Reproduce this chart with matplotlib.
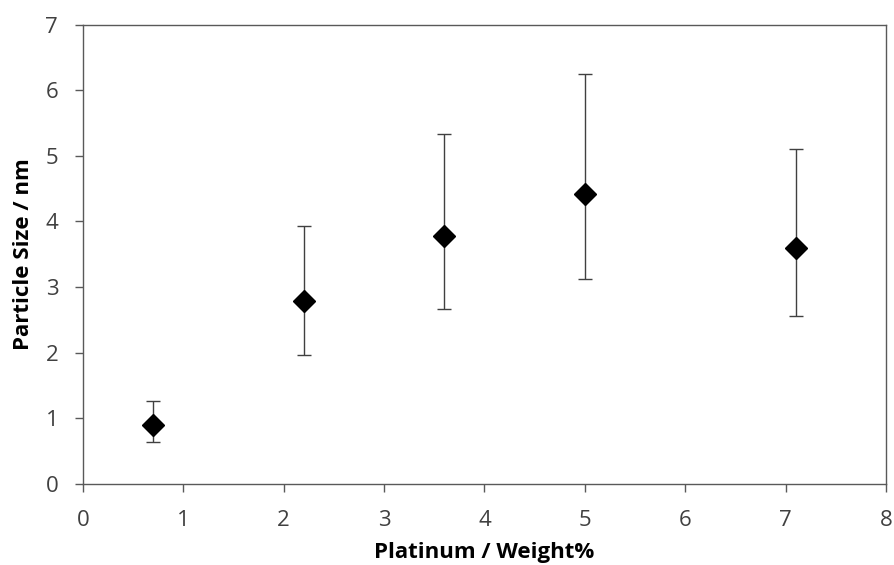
import matplotlib
matplotlib.use('Agg')
import matplotlib.pyplot as plt
import numpy as np

# Platinum loading (wt%) vs particle size (nm)
pt_weight = [0.7, 2.2, 3.6, 5.0, 7.1]
size_nm = [0.90, 2.78, 3.77, 4.42, 3.60]
err_upper = [1.26, 3.93, 5.33, 6.25, 5.10]
err_lower = [0.64, 1.97, 2.67, 3.12, 2.56]

x_ticks = [0, 1, 2, 3, 4, 5, 6, 7, 8]
y_ticks = [0, 1, 2, 3, 4, 5, 6, 7]

plt.rcParams['font.family'] = ['Open Sans', 'DejaVu Sans']

fig = plt.figure(figsize=(8.94, 5.65), dpi=100)
ax = fig.add_axes([0.0928, 0.1439, 0.8982, 0.8124])

y = np.array(size_nm)
yerr = [y - np.array(err_lower), np.array(err_upper) - y]

ax.errorbar(pt_weight, size_nm, yerr=yerr, fmt='none', ecolor='#404040',
            elinewidth=1.0, capsize=4.7, capthick=1.0, zorder=2)
ax.plot(pt_weight, size_nm, linestyle='none', marker='D', markersize=11.5,
        color='black', zorder=3)

ax.set_xlim(0, 8)
ax.set_ylim(0, 7)
ax.set_xticks(x_ticks)
ax.set_yticks(y_ticks)

for s in ax.spines.values():
    s.set_color('#595959')
    s.set_linewidth(1.0)

ax.tick_params(axis='both', direction='out', length=5.8, width=1.0,
               color='#595959', labelsize=16, labelcolor='#404040')
ax.tick_params(axis='x', pad=13)
ax.tick_params(axis='y', pad=12)

ax.set_xlabel('Platinum / Weight%', fontsize=16, fontweight='bold', labelpad=8)
ax.set_ylabel('Particle Size / nm', fontsize=16, fontweight='bold', labelpad=8)

plt.savefig('out.png', dpi=100)
plt.close()
